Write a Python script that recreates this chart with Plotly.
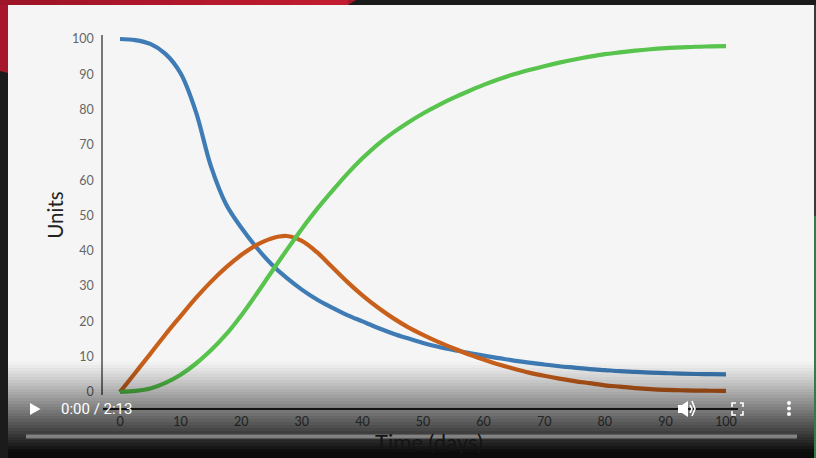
import plotly.graph_objects as go

W, H = 816, 458
FONT = "Lato"

days = [0, 2.5, 5, 7.5, 10, 12.5, 15, 17.5, 20, 22.5, 25, 27.5, 30, 32.5, 35, 37.5, 40,
        42.5, 45, 47.5, 50, 52.5, 55, 57.5, 60, 62.5, 65, 67.5, 70, 72.5, 75, 77.5, 80,
        82.5, 85, 87.5, 90, 92.5, 95, 97.5, 100]
blue_y = [100, 99.7, 98.6, 95.8, 90.3, 79.5, 64, 53.2, 46.6, 41, 36.2, 32.3, 29, 26.2, 23.9, 21.8, 20,
          18.2, 16.6, 15.2, 13.9, 12.8, 11.9, 11.1, 10.3, 9.6, 8.9, 8.3, 7.8, 7.3, 6.9, 6.5, 6.2,
          5.9, 5.7, 5.5, 5.35, 5.2, 5.1, 5.05, 5]
orange_y = [0, 5.4, 10.8, 16.3, 21.5, 26.6, 31.2, 35.3, 38.8, 41.6, 43.5, 44.2, 42.8, 39.6, 35.4, 31.2, 27.4,
            24, 21, 18.4, 16.2, 14.2, 12.4, 10.7, 9.2, 7.8, 6.6, 5.5, 4.6, 3.8, 3.1, 2.5, 1.9,
            1.5, 1.1, 0.8, 0.6, 0.5, 0.4, 0.35, 0.3]
green_y = [0, 0.3, 1, 2.6, 4.9, 8, 11.8, 16.3, 21.7, 27.7, 34, 40.2, 46.2, 51.8, 56.9, 61.8, 66.2,
           70.1, 73.4, 76.3, 78.9, 81.2, 83.3, 85.2, 87, 88.6, 90, 91.2, 92.3, 93.3, 94.2, 95, 95.7,
           96.2, 96.7, 97.1, 97.4, 97.6, 97.8, 97.9, 98]
tick_vals_x = [0, 10, 20, 30, 40, 50, 60, 70, 80, 90, 100]
tick_vals_y = [0, 10, 20, 30, 40, 50, 60, 70, 80, 90, 100]
x_title = "Time (days)"
y_title = "Units"
time_text = "0:00 / 2:13"


def px(x):
    return x / W


def py(y):
    return 1 - y / H


def rect(x0, y0, x1, y1, color, layer="below", opacity=1):
    return dict(type="rect", xref="paper", yref="paper", x0=px(x0), x1=px(x1), y0=py(y1), y1=py(y0),
                fillcolor=color, line_width=0, layer=layer, opacity=opacity)


def path(points, color, layer="above", close=True):
    d = "M " + " L ".join(f"{px(a):.5f},{py(b):.5f}" for a, b in points) + (" Z" if close else "")
    return dict(type="path", xref="paper", yref="paper", path=d, fillcolor=color if close else None,
                line=dict(color=color, width=0 if close else 1.6), layer=layer)


shapes = []
shapes.append(path([(0, 0), (356, 0), (340, 10), (8, 73), (0, 71)], "#a8162b", "below"))
for i in range(12):
    a = i / 11
    c = f"rgb({int(158 + 36 * a)},{int(20 + 8 * a)},{int(40 + 8 * a)})"
    shapes.append(rect(i * 29, 0, min((i + 1) * 29, 349), 5, c))
shapes.append(rect(8, 5, 814, H, "#f5f5f5"))
shapes.append(rect(814, 5, 816, 216, "#3a3a3a"))
shapes.append(rect(814, 216, 816, H, "#2e7d4a"))

# player's shading: nested rectangles, each reaching the bottom, so there are no seams
prev = 0.0
for y in range(362, H, 3):
    t = (y - 362) / (H - 362)
    target = min(0.95, 0.02 + 1.02 * t ** 1.1)
    a = 1 - (1 - target) / (1 - prev)
    prev = target
    shapes.append(rect(8, y, 814, H, f"rgba(0,0,0,{a:.4f})", "above"))

# player's controls
shapes.append(dict(type="line", xref="paper", yref="paper", x0=px(26), x1=px(797), y0=py(436.5), y1=py(436.5),
                   line=dict(color="rgba(170,170,170,0.65)", width=4), layer="above"))
shapes.append(path([(30, 403), (30, 415), (40.5, 409)], "#ffffff"))
shapes.append(path([(678, 405), (682, 405), (688, 401), (688, 417), (682, 413), (678, 413)], "#ffffff"))
shapes.append(path([(690, 405), (692, 409), (690, 413)], "#ffffff", close=False))
shapes.append(path([(692, 401), (695, 409), (692, 416)], "#ffffff", close=False))
for pts in ([(732, 407), (732, 403), (736, 403)], [(740, 403), (743, 403), (743, 407)],
            [(732, 411), (732, 415), (736, 415)], [(740, 415), (743, 415), (743, 411)]):
    shapes.append(path(pts, "#ffffff", close=False))
for y in (403, 408.5, 414):
    shapes.append(dict(type="circle", xref="paper", yref="paper", x0=px(787), x1=px(791), y0=py(y + 2), y1=py(y - 2),
                       fillcolor="#ffffff", line_width=0, layer="above"))

fig = go.Figure()
for ys, col in ((blue_y, "#3f7cb6"), (orange_y, "#c8601c"), (green_y, "#58c44e")):
    fig.add_trace(go.Scatter(x=days, y=ys, mode="lines", showlegend=False,
                             line=dict(color=col, width=4.2, shape="spline", smoothing=1)))

fig.update_layout(
    width=W, height=H, autosize=False, margin=dict(l=0, r=0, t=0, b=0, autoexpand=False),
    paper_bgcolor="#1b1b1b", plot_bgcolor="rgba(0,0,0,0)", showlegend=False, shapes=shapes,
    font=dict(family=FONT),
    xaxis=dict(domain=[px(103), px(738)], range=[(103 - 120) / 6.06, (738 - 120) / 6.06], anchor="free",
               position=py(409), tickvals=tick_vals_x, showgrid=False, zeroline=False, showline=True,
               linecolor="#333333", linewidth=1.5, ticks="outside", ticklen=1, tickcolor="rgba(0,0,0,0)",
               tickfont=dict(size=12.5, color="#666666", family=FONT)),
    yaxis=dict(domain=[py(395), py(35)], range=[(392 - 395) / 3.53, (392 - 35) / 3.53],
               tickvals=tick_vals_y, showgrid=False, zeroline=False, showline=True,
               linecolor="#777777", linewidth=1.5, ticks="outside", ticklen=5, tickcolor="rgba(0,0,0,0)",
               tickfont=dict(size=12.5, color="#666666", family=FONT),
               title=dict(text=y_title, font=dict(size=20.5, color="#222222", family=FONT), standoff=3)),
    annotations=[dict(text=time_text, xref="paper", yref="paper", x=px(59), y=py(409), xanchor="left",
                      yanchor="middle", showarrow=False, font=dict(size=15, color="#ffffff", family="Roboto")),
                 dict(text=x_title, xref="paper", yref="paper", x=px(429), y=py(441), xanchor="center",
                      yanchor="middle", showarrow=False, font=dict(size=22, color="#141414", family=FONT))],
)
fig.write_html("out.html", config={"displayModeBar": False},
               post_script="document.body.style.margin='0';")
